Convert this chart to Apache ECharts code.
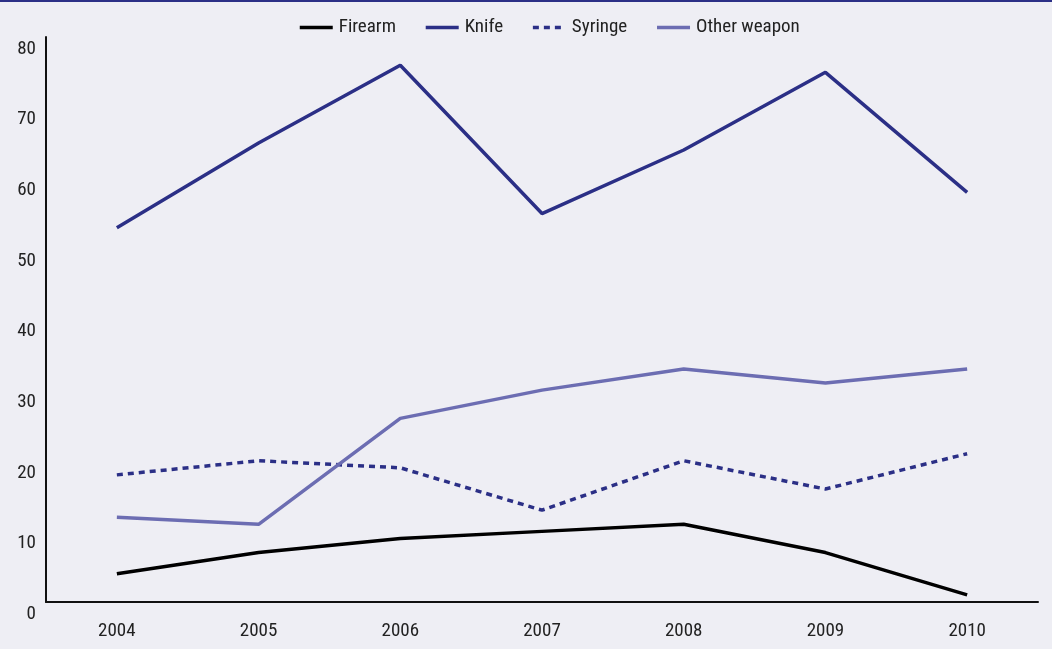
<!DOCTYPE html>
<html>
<head>
<meta charset="utf-8">
<script src="https://cdn.jsdelivr.net/npm/echarts@6/dist/echarts.min.js"></script>
<style>
html,body{margin:0;padding:0;background:#eeeef4;}
#chart{width:1052px;height:649px;}
</style>
</head>
<body>
<div id="chart"></div>
<script>
const years = ['2004','2005','2006','2007','2008','2009','2010'];
const firearm = [4, 7, 9, 10, 11, 7, 1];
const knife = [53, 65, 76, 55, 64, 75, 58];
const syringe = [18, 20, 19, 13, 20, 16, 21];
const otherWeapon = [12, 11, 26, 30, 33, 31, 33];
const seriesNames = ['Firearm', 'Knife', 'Syringe', 'Other weapon'];

const FONT = "'Liberation Sans Narrow', 'Arial Narrow', 'Roboto Condensed', sans-serif";
const chart = echarts.init(document.getElementById('chart'));
chart.setOption({
  backgroundColor: '#eeeef4',
  animation: false,
  textStyle: { fontFamily: FONT },
  graphic: [{
    type: 'rect', left: 0, top: 0,
    shape: { width: 1052, height: 2 },
    style: { fill: '#2b2f86' }
  }],
  legend: {
    top: 13,
    left: 293,
    itemWidth: 33,
    itemHeight: 12,
    itemGap: 28,
    itemStyle: { opacity: 0 },
    lineStyle: { width: 3.5 },
    textStyle: { fontSize: 19, color: '#222', fontFamily: FONT, padding: [0, 0, 0, 1] },
    data: seriesNames
  },
  grid: { left: 46, right: 14, top: 37, bottom: 47 },
  xAxis: {
    type: 'category',
    data: years,
    boundaryGap: true,
    axisLine: { lineStyle: { color: '#111', width: 2 } },
    axisTick: { show: false },
    axisLabel: { fontSize: 19, color: '#222', margin: 20, fontFamily: FONT }
  },
  yAxis: {
    type: 'value',
    min: 0, max: 80, interval: 10,
    axisLine: { show: true, lineStyle: { color: '#111', width: 2 } },
    axisTick: { show: false },
    splitLine: { show: false },
    axisLabel: { fontSize: 19, color: '#222', margin: 10, verticalAlign: 'top', lineHeight: 24, fontFamily: FONT }
  },
  series: [
    { name: 'Firearm', type: 'line', data: firearm, symbol: 'none',
      lineStyle: { color: '#000000', width: 3.5 }, itemStyle: { color: '#000000' } },
    { name: 'Knife', type: 'line', data: knife, symbol: 'none',
      lineStyle: { color: '#2b2f86', width: 3.5 }, itemStyle: { color: '#2b2f86' } },
    { name: 'Syringe', type: 'line', data: syringe, symbol: 'none',
      lineStyle: { color: '#2b2f86', width: 3.5, type: [6, 5] }, itemStyle: { color: '#2b2f86' } },
    { name: 'Other weapon', type: 'line', data: otherWeapon, symbol: 'none',
      lineStyle: { color: '#6c6db2', width: 3.5 }, itemStyle: { color: '#6c6db2' } }
  ]
});
</script>
</body>
</html>
